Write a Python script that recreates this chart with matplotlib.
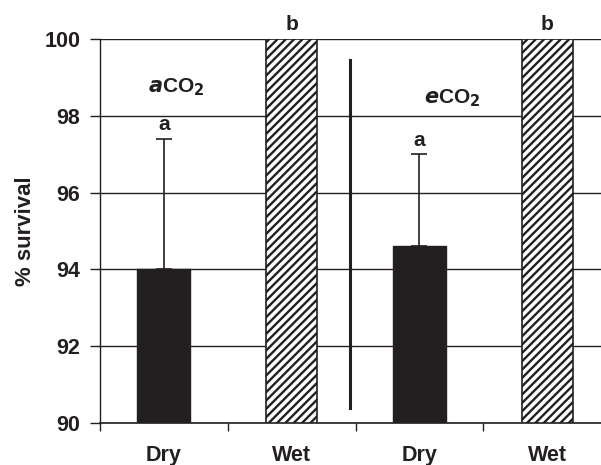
import matplotlib
matplotlib.use("Agg")
import matplotlib.pyplot as plt
import numpy as np

plt.rcParams['font.family'] = ['Liberation Sans', 'DejaVu Sans']
plt.rcParams['hatch.linewidth'] = 1.7
plt.rcParams['hatch.color'] = '#231f20'

categories = ["Dry", "Wet", "Dry", "Wet"]
survival = [94.0, 100.0, 94.6, 100.0]
err_upper = [3.4, 0.0, 2.4, 0.0]
letters = ["a", "b", "a", "b"]
yticks = [90, 92, 94, 96, 98, 100]

fig = plt.figure(figsize=(6.01, 4.65), dpi=100)
ax = fig.add_axes([100/601, 1-423/465, 511/601, (423-39)/465])

x = np.arange(len(categories))
for i, (v, c) in enumerate(zip(survival, categories)):
    if c == "Dry":
        ax.bar(i, v - 90, bottom=90, width=0.415, color='#231f20', edgecolor='#231f20', zorder=3)
    else:
        ax.bar(i, v - 90, bottom=90, width=0.4, color='white', edgecolor='#231f20',
               hatch='////', linewidth=1.2, zorder=3)

for i, (v, e) in enumerate(zip(survival, err_upper)):
    if e > 0:
        ax.errorbar(i, v, yerr=[[0], [e]], fmt='none', ecolor='#231f20', elinewidth=1.2,
                    capsize=5.5, capthick=1.2, zorder=4)
        ax.text(i, v + e + 0.12, letters[i], ha='center', va='bottom', fontsize=15,
                fontweight='bold', color='#231f20')
    else:
        ax.text(i, v + 0.12, letters[i], ha='center', va='bottom', fontsize=15,
                fontweight='bold', color='#231f20')

ax.plot([1.457, 1.457], [90.4, 99.45], color='#231f20', lw=2.2, zorder=4, clip_on=False)

ax.text(0.1, 98.75, r'$\mathbfit{a}$CO$_\mathbf{2}$', fontsize=15, fontweight='bold',
        ha='center', va='center', color='#231f20')
ax.text(2.26, 98.45, r'$\mathbfit{e}$CO$_\mathbf{2}$', fontsize=15, fontweight='bold',
        ha='center', va='center', color='#231f20')

ax.set_xlim(-0.5, 3.5)
ax.set_ylim(90, 100)
ax.set_yticks(yticks)
ax.set_yticklabels([str(t) for t in yticks], fontsize=15.5, fontweight='bold', color='#231f20')
ax.yaxis.grid(True, color='#231f20', lw=1.0, zorder=0)
ax.set_axisbelow(True)

ax.set_xticks(x)
ax.set_xticklabels(categories, fontsize=15.5, fontweight='bold', color='#231f20')
ax.tick_params(axis='x', which='major', length=0, pad=16)
ax.set_xticks(np.arange(-0.5, 3.6, 1.0), minor=True)
ax.tick_params(axis='x', which='minor', length=6, width=1.0, direction='out', color='#231f20')
ax.tick_params(axis='y', length=7.2, width=1.0, direction='out', color='#231f20', pad=7)

ax.spines['top'].set_visible(False)
ax.spines['right'].set_visible(False)
ax.spines['left'].set_color('#231f20')
ax.spines['bottom'].set_color('#231f20')
ax.spines['left'].set_linewidth(1.0)
ax.spines['bottom'].set_linewidth(1.2)

ax.set_ylabel('% survival', fontsize=16, fontweight='bold', color='#231f20', labelpad=6)

fig.savefig('out.png', dpi=100)
